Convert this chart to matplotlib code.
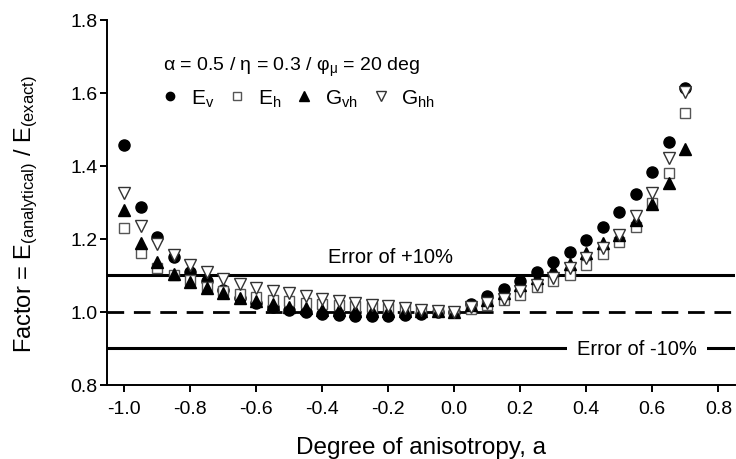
import numpy as np
import matplotlib
matplotlib.use("Agg")
import matplotlib.pyplot as plt

plt.rcParams["font.family"] = ["Liberation Sans", "DejaVu Sans"]
plt.rcParams["mathtext.fontset"] = "custom"
plt.rcParams["mathtext.rm"] = "Liberation Sans"
plt.rcParams["mathtext.it"] = "Liberation Sans"

# degree of anisotropy
a = [-1.00, -0.95, -0.90, -0.85, -0.80, -0.75, -0.70, -0.65, -0.60, -0.55,
     -0.50, -0.45, -0.40, -0.35, -0.30, -0.25, -0.20, -0.15, -0.10, -0.05,
     0.00, 0.05, 0.10, 0.15, 0.20, 0.25, 0.30, 0.35, 0.40, 0.45,
     0.50, 0.55, 0.60, 0.65, 0.70]

Ev = [1.457, 1.288, 1.205, 1.150, 1.110, 1.085, 1.060, 1.038, 1.025, 1.013,
      1.005, 0.998, 0.993, 0.992, 0.989, 0.988, 0.989, 0.991, 0.994, 0.998,
      1.000, 1.022, 1.042, 1.061, 1.085, 1.110, 1.135, 1.164, 1.196, 1.233,
      1.274, 1.322, 1.382, 1.466, 1.612]
Eh = [1.228, 1.160, 1.120, 1.100, 1.088, 1.068, 1.057, 1.048, 1.040, 1.033,
      1.030, 1.025, 1.020, 1.018, 1.015, 1.013, 1.010, 1.008, 1.005, 1.002,
      1.000, 1.008, 1.018, 1.033, 1.047, 1.067, 1.083, 1.101, 1.128, 1.158,
      1.192, 1.231, 1.297, 1.381, 1.545]
Gvh = [1.280, 1.187, 1.136, 1.102, 1.082, 1.064, 1.050, 1.038, 1.028, 1.020,
       1.014, 1.010, 1.005, 1.004, 1.002, 1.002, 1.001, 1.001, 1.001, 1.002,
       1.000, 1.018, 1.032, 1.050, 1.074, 1.092, 1.114, 1.132, 1.160, 1.187,
       1.210, 1.251, 1.295, 1.352, 1.447]
Ghh = [1.324, 1.235, 1.186, 1.155, 1.128, 1.110, 1.090, 1.076, 1.066, 1.057,
       1.050, 1.043, 1.035, 1.030, 1.024, 1.019, 1.015, 1.010, 1.006, 1.002,
       0.998, 1.012, 1.024, 1.036, 1.056, 1.074, 1.092, 1.119, 1.146, 1.174,
       1.210, 1.261, 1.324, 1.420, 1.603]

xticks = [-1.0, -0.8, -0.6, -0.4, -0.2, 0.0, 0.2, 0.4, 0.6, 0.8]
yticks = [0.8, 1.0, 1.2, 1.4, 1.6, 1.8]


def main():
    fig = plt.figure(figsize=(7.36, 4.6), dpi=100)
    ax = fig.add_axes([0.1454, 0.1615, 0.853, 0.7935])

    # reference lines
    ax.axhline(1.1, color="black", lw=2.2, zorder=1)
    ax.axhline(0.9, color="black", lw=2.2, zorder=1)
    ax.axhline(1.0, color="black", lw=2.0, ls=(0, (6, 3.5)), zorder=1)

    ax.plot(a, Ev, "o", ms=8, color="black", ls="none", zorder=3,
            label=r"E$_\mathregular{v}$")
    ax.plot(a, Eh, "s", ms=7.5, mfc="white", mec="#555555", mew=1.0,
            ls="none", zorder=3, label=r"E$_\mathregular{h}$")
    ax.plot(a, Gvh, "^", ms=9, color="black", ls="none", zorder=3,
            label=r"G$_\mathregular{vh}$")
    ax.plot(a, Ghh, "v", ms=9, mfc="white", mec="#333333", mew=1.0,
            ls="none", zorder=3, label=r"G$_\mathregular{hh}$")

    ax.text(-0.194, 1.152, "Error of +10%", fontsize=14.5, ha="center", va="center")
    ax.text(0.554, 0.9, "Error of -10%", fontsize=14.5, ha="center", va="center",
            bbox=dict(boxstyle="square,pad=0.5", fc="white", ec="none"), zorder=2)

    ax.text(0.089, 0.872, r"α = 0.5 / η = 0.3 / φ$_\mathregular{μ}$ = 20 deg",
            transform=ax.transAxes, fontsize=14, va="center", ha="left")
    ax.legend(loc="center left", bbox_to_anchor=(0.07, 0.785), ncol=4,
              frameon=False, fontsize=15, markerscale=0.75, handlelength=1.0,
              handletextpad=0.5, columnspacing=0.6, borderaxespad=0)

    ax.set_xlim(-1.052, 0.85)
    ax.set_ylim(0.8, 1.8)
    ax.set_xticks(xticks)
    ax.set_yticks(yticks)
    ax.set_xticklabels([f"{t:.1f}" for t in xticks])
    ax.set_yticklabels([f"{t:.1f}" for t in yticks])
    ax.tick_params(direction="out", length=5, width=1.4, labelsize=14)
    ax.tick_params(axis="y", pad=2)
    ax.tick_params(axis="x", pad=6)
    for s in ["top", "right"]:
        ax.spines[s].set_visible(False)
    for s in ["left", "bottom"]:
        ax.spines[s].set_linewidth(1.4)

    ax.set_xlabel("Degree of anisotropy, a", fontsize=17.5, labelpad=14)
    ax.set_ylabel(r"Factor = E$_\mathregular{(analytical)}$ / E$_\mathregular{(exact)}$",
                  fontsize=17)
    ax.yaxis.set_label_coords(-0.107, 0.47)

    fig.savefig("out.png", dpi=100)


if __name__ == "__main__":
    main()
